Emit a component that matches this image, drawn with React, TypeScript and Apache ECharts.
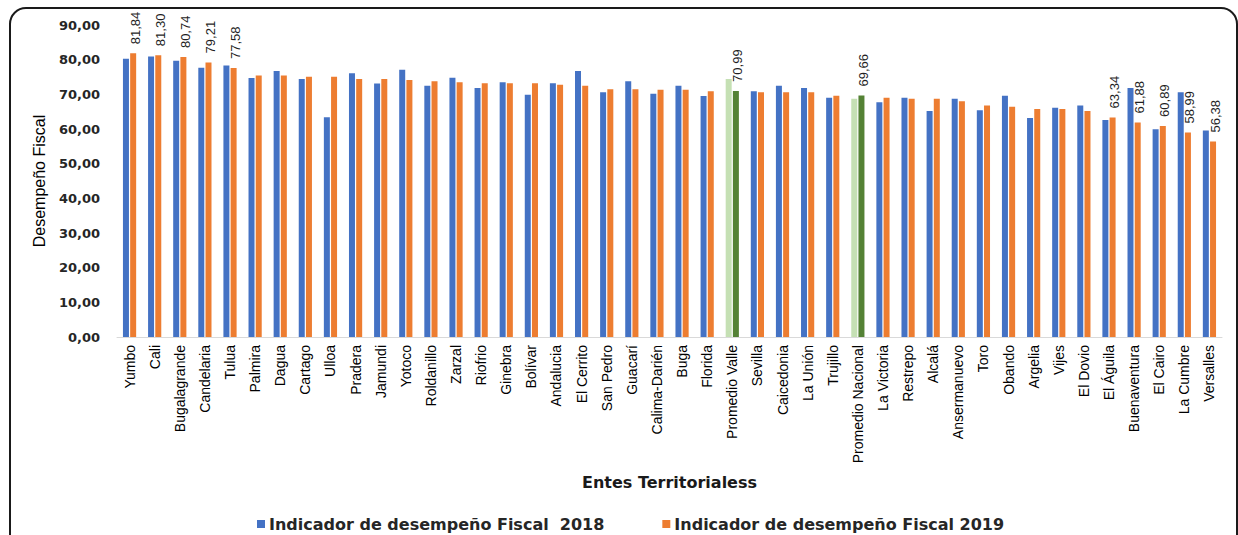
import React, { useEffect, useRef } from 'react';
import * as echarts from 'echarts';

const categories = [
  'Yumbo', 'Cali', 'Bugalagrande', 'Candelaria', 'Tulua', 'Palmira', 'Dagua', 'Cartago', 'Ulloa', 'Pradera',
  'Jamundi', 'Yotoco', 'Roldanillo', 'Zarzal', 'Riofrio', 'Ginebra', 'Bolívar', 'Andalucia', 'El Cerrito', 'San Pedro',
  'Guacarí', 'Calima-Darién', 'Buga', 'Florida', 'Promedio Valle', 'Sevilla', 'Caicedonia', 'La Unión', 'Trujillo', 'Promedio Nacional',
  'La Victoria', 'Restrepo', 'Alcalá', 'Ansermanuevo', 'Toro', 'Obando', 'Argelia', 'Vijes', 'El Dovio', 'El Águila',
  'Buenaventura', 'El Cairo', 'La Cumbre', 'Versalles',
];

const values2018 = [
  80.3, 80.9, 79.7, 77.7, 78.3, 74.7, 76.7, 74.4, 63.4, 76.1,
  73.1, 77.1, 72.5, 74.8, 71.8, 73.5, 69.9, 73.2, 76.7, 70.6,
  73.8, 70.2, 72.5, 69.5, 74.4, 70.9, 72.5, 71.8, 69.0, 68.7,
  67.7, 69.0, 65.2, 68.7, 65.4, 69.6, 63.2, 66.1, 66.8, 62.6,
  71.8, 59.9, 70.6, 59.6,
];

const values2019 = [
  81.84, 81.3, 80.74, 79.21, 77.58, 75.4, 75.4, 75.1, 75.1, 74.4,
  74.4, 74.1, 73.8, 73.5, 73.2, 73.2, 73.2, 72.8, 72.5, 71.5,
  71.5, 71.3, 71.3, 70.9, 70.99, 70.6, 70.6, 70.6, 69.6, 69.66,
  69.0, 68.7, 68.7, 68.0, 66.8, 66.4, 65.8, 65.8, 65.2, 63.34,
  61.88, 60.89, 58.99, 56.38,
];

const seriesNames = ['Indicador de desempeño Fiscal  2018', 'Indicador de desempeño Fiscal 2019'];
const highlighted = ['Promedio Valle', 'Promedio Nacional'];
const labeled2019 = [
  'Yumbo', 'Cali', 'Bugalagrande', 'Candelaria', 'Tulua', 'Promedio Valle', 'Promedio Nacional',
  'El Águila', 'Buenaventura', 'El Cairo', 'La Cumbre', 'Versalles',
];
const yMin = 0;
const yMax = 90;
const yStep = 10;

const fmt = (v: number) => v.toFixed(2).replace('.', ',');

export default function App() {
  const ref = useRef<HTMLDivElement>(null);

  useEffect(() => {
    if (!ref.current) return;
    const chart = echarts.init(ref.current, null, { renderer: 'svg' });

    const data2018 = values2018.map((v, i) =>
      highlighted.includes(categories[i]) ? { value: v, itemStyle: { color: '#C5E0B4' } } : { value: v }
    );
    const data2019 = values2019.map((v, i) => {
      const item: any = { value: v };
      if (highlighted.includes(categories[i])) item.itemStyle = { color: '#548235' };
      if (labeled2019.includes(categories[i])) item.label = { show: true };
      return item;
    });

    chart.setOption({
      animation: false,
      backgroundColor: '#ffffff',
      grid: { left: 117, right: 16, top: 25, bottom: 198, containLabel: false },
      legend: {
        data: seriesNames,
        left: 252,
        top: 511,
        icon: 'rect',
        itemWidth: 8,
        itemHeight: 8,
        itemGap: 58,
        textStyle: { fontFamily: 'DejaVu Sans', fontWeight: 'bold', fontSize: 16, color: '#262626', padding: [0, 0, 0, -1] },
      },
      xAxis: {
        type: 'category',
        data: categories,
        axisTick: { show: false },
        axisLine: { lineStyle: { color: '#D9D9D9', width: 1 } },
        axisLabel: {
          interval: 0,
          rotate: 90,
          margin: 8,
          fontFamily: 'Liberation Sans',
          fontSize: 14,
          color: '#000000',
        },
        name: 'Entes Territorialess',
        nameLocation: 'middle',
        nameGap: 137,
        nameTextStyle: { fontFamily: 'DejaVu Sans', fontWeight: 'bold', fontSize: 16, color: '#1a1a1a' },
      },
      yAxis: {
        type: 'value',
        min: yMin,
        max: yMax,
        interval: yStep,
        splitLine: { show: false },
        axisLine: { show: false },
        axisTick: { show: false },
        axisLabel: {
          formatter: (v: number) => fmt(v),
          fontFamily: 'DejaVu Sans',
          fontWeight: 'bold',
          fontSize: 13,
          color: '#262626',
          margin: 17,
        },
        name: 'Desempeño Fiscal',
        nameLocation: 'middle',
        nameGap: 62,
        nameTextStyle: { fontFamily: 'Liberation Sans', fontSize: 16, color: '#000000' },
      },
      series: [
        {
          name: seriesNames[0],
          type: 'bar',
          data: data2018,
          barWidth: 6,
          barGap: '20%',
          itemStyle: { color: '#4472C4' },
        },
        {
          name: seriesNames[1],
          type: 'bar',
          data: data2019,
          barWidth: 6,
          barGap: '20%',
          itemStyle: { color: '#ED7D31' },
          label: {
            show: false,
            position: 'top',
            rotate: 90,
            align: 'left',
            verticalAlign: 'middle',
            distance: 9,
            offset: [0, 2],
            fontFamily: 'Liberation Sans',
            fontSize: 13,
            color: '#1f1f1f',
            formatter: (p: any) => fmt(p.value),
          },
        },
      ],
      graphic: [
        {
          type: 'rect',
          shape: { x: 10, y: 8, width: 1227, height: 545, r: 16 },
          style: { fill: 'none', stroke: '#1a1a1a', lineWidth: 2 },
          silent: true,
          z: 100,
        },
      ],
    });

    return () => chart.dispose();
  }, []);

  return <div ref={ref} style={{ position: 'absolute', left: 0, top: 0, width: 1238, height: 535 }} />;
}
